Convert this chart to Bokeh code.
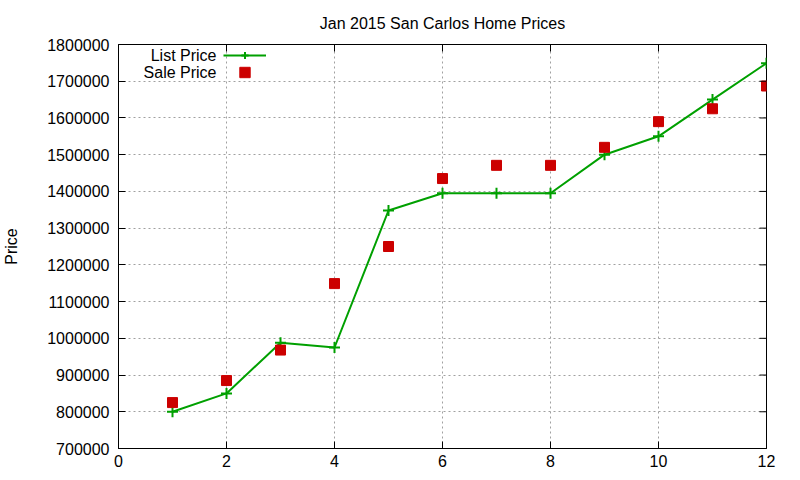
from bokeh.plotting import figure
from bokeh.models import (ColumnDataSource, Legend, LegendItem, Label,
                          BasicTickFormatter, FixedTicker, Range1d)
from bokeh.embed import file_html
from bokeh.resources import INLINE

# data
house = [1, 2, 3, 4, 5, 6, 7, 8, 9, 10, 11, 12]
list_price = [800000, 850000, 988000, 975000, 1348000, 1395000,
              1395000, 1395000, 1500000, 1550000, 1650000, 1749000]
sale_price = [825000, 885000, 968000, 1149000, 1250000, 1435000,
              1471000, 1471000, 1520000, 1590000, 1625000, 1687000]

x_ticks = [0, 2, 4, 6, 8, 10, 12]
y_ticks = list(range(700000, 1800001, 100000))

source = ColumnDataSource(data=dict(x=house, lp=list_price, sp=sale_price))

FONT = "Liberation Sans"
FS = "16px"

p = figure(width=784, height=469, output_backend="svg", toolbar_location=None,
           x_range=Range1d(0, 12), y_range=Range1d(700000, 1800000),
           title="Jan 2015 San Carlos Home Prices",
           min_border_left=112, min_border_right=18, min_border_top=44,
           min_border_bottom=4)

p.title.align = "center"
p.title.text_font = FONT
p.title.text_font_size = FS
p.title.text_font_style = "normal"
p.title.text_color = "black"
p.title.standoff = 25

p.outline_line_color = "black"
p.outline_line_width = 1

line = p.line("x", "lp", source=source, line_color="#00a000", line_width=2)
cross = p.scatter("x", "lp", source=source, marker="cross", size=11,
                  line_color="#00a000", line_width=2)
sq = p.scatter("x", "sp", source=source, marker="square", size=10,
               fill_color="#cc0000", line_color="#cc0000")

# axes styled like gnuplot: inward ticks
for ax in [p.xaxis[0], p.yaxis[0]]:
    ax.major_tick_in = 7
    ax.major_tick_out = 0
    ax.minor_tick_line_color = None
    ax.axis_line_color = "black"
    ax.major_label_text_font = FONT
    ax.major_label_text_font_size = FS
    ax.major_label_text_color = "black"

p.xaxis.ticker = FixedTicker(ticks=x_ticks)
p.yaxis.ticker = FixedTicker(ticks=y_ticks)
p.yaxis.formatter = BasicTickFormatter(use_scientific=False)
p.yaxis.axis_label = "Price"
p.yaxis.axis_label_text_font = FONT
p.yaxis.axis_label_text_font_size = FS
p.yaxis.axis_label_text_font_style = "normal"
p.yaxis.axis_label_text_color = "black"
p.yaxis.axis_label_standoff = 24
p.xaxis.major_label_standoff = 6
p.yaxis.major_label_standoff = 9

# mirrored ticks on the top and right edges
xr, yr = 12 - 0, 1800000 - 700000
p.segment(x0=x_ticks, y0=[1800000] * len(x_ticks), x1=x_ticks,
          y1=[1800000 - yr * 7 / 403] * len(x_ticks), line_color="black")
p.segment(x0=[12] * len(y_ticks), y0=y_ticks, x1=[12 - xr * 7 / 646] * len(y_ticks),
          y1=y_ticks, line_color="black")

p.xgrid.ticker = FixedTicker(ticks=x_ticks)
p.ygrid.ticker = FixedTicker(ticks=y_ticks)
for g in [p.xgrid[0], p.ygrid[0]]:
    g.grid_line_color = "#a0a0a0"
    g.grid_line_dash = "2 3"
    g.grid_line_width = 1

# gnuplot-style key: text on the left, sample on the right
key_style = dict(background_fill_alpha=0, border_line_color=None,
                 label_text_font_size="0px", label_width=0, spacing=0,
                 padding=0, margin=0, label_standoff=0, glyph_width=43)
p.add_layout(Legend(items=[LegendItem(label="", renderers=[line, cross])],
                    location=(105, 384), label_height=18, glyph_height=18,
                    **key_style), "center")
p.add_layout(Legend(items=[LegendItem(label="", renderers=[sq])],
                    location=(105, 363), label_height=26, glyph_height=26,
                    **key_style), "center")

for txt, ypos in [("List Price", 393), ("Sale Price", 376)]:
    p.add_layout(Label(x=98, y=ypos, x_units="screen", y_units="screen",
                       text=txt, text_align="right", text_baseline="middle",
                       text_font=FONT, text_font_size=FS, text_color="black"))

open("out.html", "w").write(file_html(p, INLINE))
